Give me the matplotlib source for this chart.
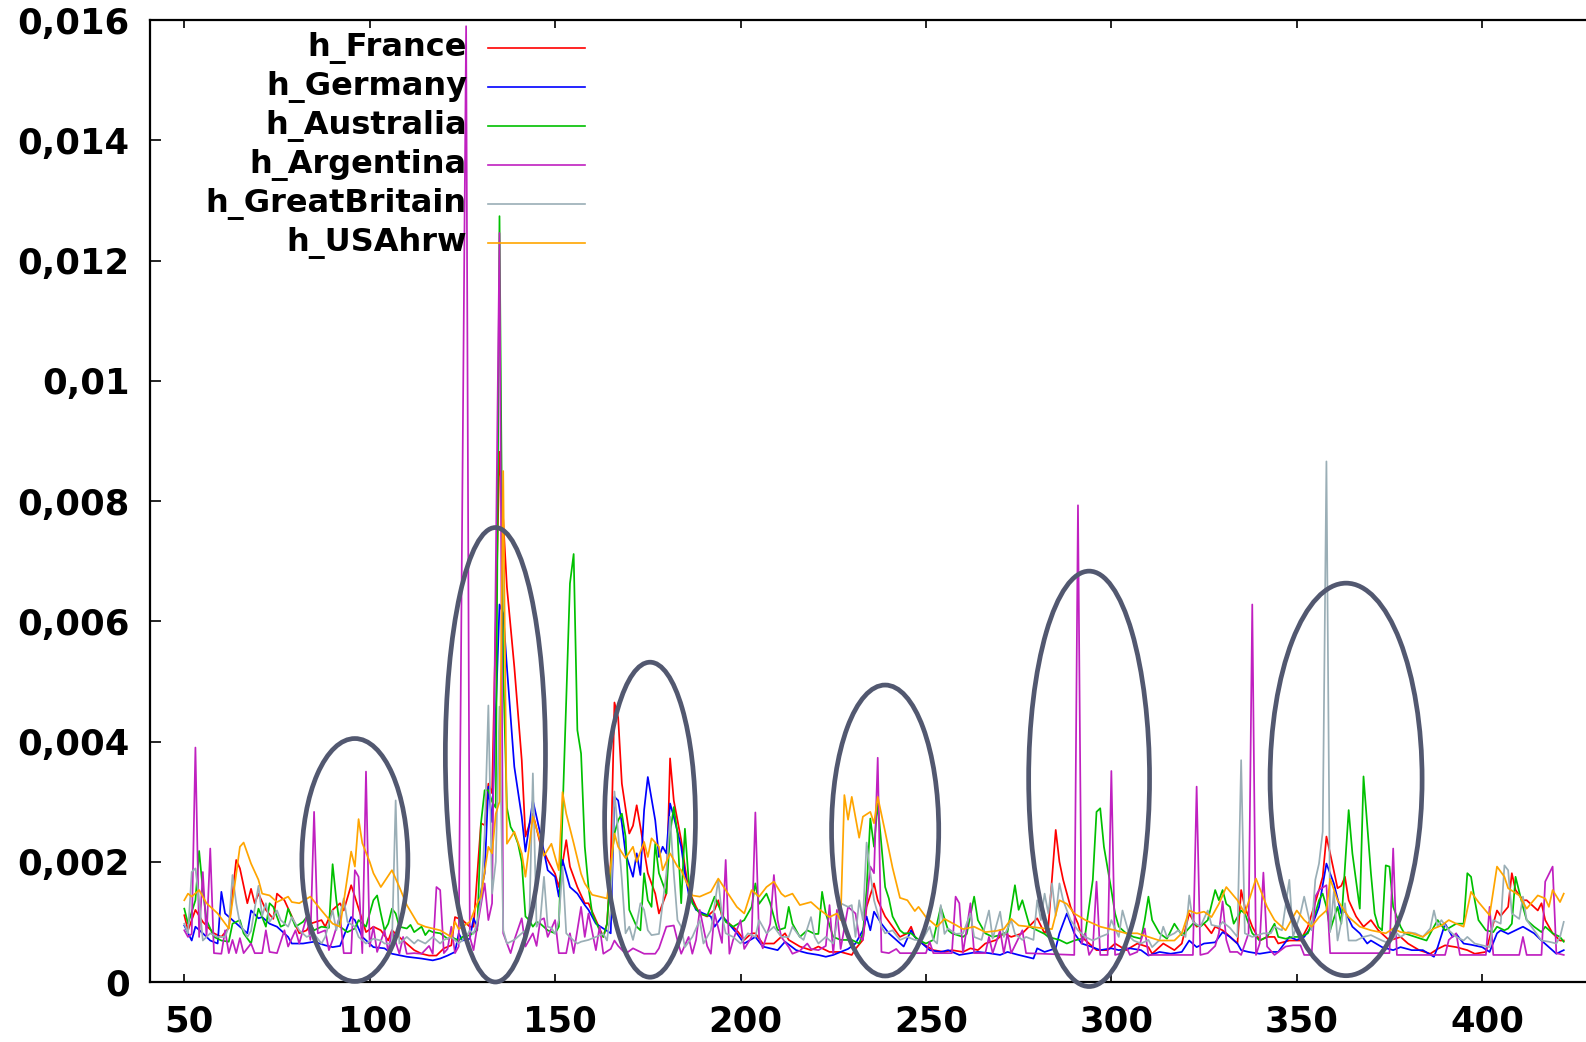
import matplotlib
matplotlib.use('Agg')
import matplotlib.pyplot as plt
import numpy as np
from matplotlib.patches import Ellipse
from matplotlib.lines import Line2D
from matplotlib.transforms import ScaledTranslation

# values: (x, y) with y in units of 1e-5
france = [(50,111),(51,86),(53,120),(55,100),(58,81),(60,75),(62,90),(64,203),(65,189),(67,131),(68,155),(69,131),(70,147),(72,120),(74,105),(75,147),(77,136),(79,109),(81,81),(83,86),(84,97),(87,103),(88,92),(90,120),(92,131),(93,119),(95,161),(96,142),(98,103),(99,83),(101,92),(103,86),(105,69),(106,86),(109,69),(112,53),(114,47),(116,44),(118,44),(120,56),(122,61),(123,108),(125,103),(127,92),(128,92),(130,264),(131,261),(132,330),(133,314),(135,882),(137,657),(139,524),(141,369),(142,242),(144,280),(146,230),(148,203),(150,180),(151,158),(153,236),(154,192),(156,158),(158,131),(159,131),(161,103),(163,75),(164,97),(165,200),(166,465),(167,440),(168,330),(170,247),(171,260),(172,294),(173,258),(174,219),(175,181),(177,147),(178,114),(180,147),(181,372),(182,302),(184,236),(185,192),(186,153),(188,125),(189,114),(191,109),(193,120),(194,136),(195,109),(197,97),(199,86),(201,70),(203,81),(204,81),(206,64),(209,64),(212,81),(213,70),(216,59),(219,53),(221,59),(224,50),(227,50),(230,45),(231,55),(233,70),(234,125),(236,164),(237,136),(239,109),(241,92),(243,75),(245,81),(246,92),(247,75),(249,64),(252,53),(255,50),(257,53),(260,50),(262,56),(264,53),(266,64),(269,70),(271,81),(273,75),(276,81),(280,106),(282,81),(283,92),(285,253),(286,200),(287,170),(289,125),(291,97),(292,75),(294,64),(296,53),(299,53),(301,64),(304,53),(307,64),(310,58),(311,47),(314,64),(317,53),(319,64),(321,114),(323,92),(325,97),(327,81),(328,92),(330,86),(331,81),(334,64),(335,153),(336,125),(338,92),(340,69),(342,75),(344,75),(345,64),(348,69),(351,69),(353,92),(356,153),(357,175),(358,242),(359,214),(361,156),(362,160),(363,175),(364,136),(366,109),(368,92),(370,103),(372,86),(375,69),(378,75),(380,64),(383,53),(386,47),(388,55),(390,61),(393,58),(396,53),(398,47),(401,50),(403,97),(404,119),(405,110),(407,125),(408,181),(409,153),(411,136),(412,136),(415,119),(416,131),(417,103),(419,81),(421,69),(422,69)]

germany = [(50,94),(52,69),(53,92),(55,81),(57,69),(59,64),(60,150),(61,114),(63,103),(65,92),(67,81),(68,119),(70,106),(71,108),(73,97),(75,92),(78,75),(79,64),(82,64),(85,67),(88,61),(90,58),(92,60),(94,92),(95,108),(96,103),(98,75),(101,58),(104,56),(106,47),(110,42),(114,39),(117,36),(119,39),(121,44),(123,50),(124,81),(125,69),(127,72),(128,106),(129,92),(130,150),(131,181),(132,325),(133,266),(135,628),(136,613),(137,524),(139,358),(141,275),(142,217),(144,302),(146,247),(148,186),(150,175),(151,142),(152,203),(154,158),(156,147),(158,128),(159,120),(161,97),(163,89),(165,81),(166,308),(167,302),(168,264),(169,214),(171,175),(172,214),(173,178),(174,286),(175,341),(177,269),(178,208),(179,225),(180,214),(181,297),(182,275),(184,225),(185,181),(186,147),(188,120),(190,114),(192,109),(193,92),(195,109),(196,103),(199,81),(201,64),(204,75),(206,59),(210,53),(212,67),(215,53),(218,48),(221,45),(223,42),(225,45),(227,50),(229,55),(231,64),(233,86),(234,109),(235,86),(236,117),(238,97),(240,81),(242,70),(244,59),(246,86),(247,75),(249,64),(251,53),(254,50),(256,53),(259,45),(262,48),(264,50),(267,48),(270,45),(272,50),(275,45),(279,39),(280,56),(282,50),(285,56),(286,81),(288,114),(290,81),(292,64),(294,60),(297,53),(300,56),(302,53),(305,56),(308,53),(310,44),(313,50),(316,47),(319,50),(321,69),(323,58),(325,64),(328,66),(330,83),(332,75),(334,64),(335,53),(337,50),(340,47),(343,50),(345,50),(348,75),(350,70),(352,75),(354,92),(356,125),(358,197),(360,164),(362,114),(363,118),(365,92),(367,81),(369,64),(370,69),(373,58),(376,53),(378,58),(381,53),(384,53),(387,42),(388,58),(390,97),(392,75),(393,80),(395,64),(397,62),(400,58),(402,50),(404,81),(405,86),(407,80),(409,86),(411,92),(414,81),(416,69),(418,58),(420,47),(422,53)]

australia = [(50,122),(51,97),(53,136),(54,218),(55,153),(56,103),(58,75),(60,69),(62,67),(63,97),(65,103),(66,81),(68,64),(70,122),(71,108),(72,92),(73,131),(74,125),(76,92),(77,95),(78,122),(80,92),(82,100),(83,108),(85,86),(87,92),(89,90),(90,196),(91,136),(92,92),(94,83),(96,89),(97,103),(99,92),(100,114),(101,136),(102,144),(103,114),(104,86),(105,97),(106,122),(107,114),(108,92),(110,89),(111,95),(112,83),(114,92),(115,78),(116,86),(117,83),(119,81),(121,72),(122,75),(124,69),(125,75),(127,78),(129,86),(130,264),(131,319),(132,319),(133,300),(134,290),(135,1274),(136,520),(137,290),(138,258),(139,247),(140,230),(141,200),(142,109),(143,103),(144,92),(145,100),(146,97),(148,86),(150,81),(151,92),(152,280),(153,469),(154,663),(155,712),(156,419),(157,380),(158,225),(159,158),(160,114),(162,86),(163,75),(164,97),(165,192),(166,247),(167,269),(168,280),(169,242),(170,120),(172,92),(173,86),(174,181),(175,136),(176,125),(177,230),(178,181),(180,147),(181,247),(182,291),(183,247),(184,131),(185,255),(186,170),(187,131),(189,114),(191,110),(193,142),(195,114),(196,100),(198,92),(201,103),(203,125),(204,164),(205,130),(207,147),(208,131),(210,86),(212,90),(213,125),(214,97),(216,75),(218,86),(220,80),(221,80),(222,150),(223,114),(225,75),(227,70),(230,70),(232,64),(233,81),(234,153),(235,272),(236,225),(237,297),(239,158),(240,139),(241,109),(243,86),(244,81),(246,81),(248,70),(250,64),(252,70),(254,125),(256,86),(257,81),(260,75),(261,80),(263,142),(264,103),(266,81),(268,75),(270,78),(272,83),(274,161),(275,120),(276,136),(278,92),(280,86),(282,80),(283,75),(286,70),(288,64),(290,69),(292,72),(293,81),(295,170),(296,283),(297,289),(298,225),(300,153),(301,114),(302,92),(304,81),(306,75),(308,72),(309,103),(310,142),(311,103),(313,81),(315,72),(317,97),(319,78),(320,83),(322,97),(324,92),(326,103),(328,153),(329,136),(330,153),(331,130),(332,125),(333,97),(335,119),(336,114),(338,81),(340,69),(342,75),(344,97),(345,75),(347,72),(349,75),(351,75),(353,81),(355,114),(356,136),(357,147),(358,125),(359,86),(361,125),(362,97),(364,286),(365,214),(367,122),(368,342),(370,181),(371,114),(372,92),(373,86),(374,194),(375,192),(376,125),(378,92),(379,81),(382,75),(385,69),(387,92),(388,103),(390,86),(393,97),(395,97),(396,181),(397,175),(398,136),(399,103),(401,86),(403,83),(404,92),(406,86),(407,89),(408,97),(409,175),(411,125),(412,103),(414,92),(416,83),(417,92),(419,81),(421,75),(422,67)]

argentina = [(50,86),(51,75),(52,80),(53,390),(54,75),(55,183),(56,75),(57,222),(58,48),(60,47),(61,86),(62,48),(63,70),(64,48),(65,73),(66,48),(68,64),(69,48),(71,48),(72,86),(73,50),(75,48),(77,86),(78,59),(80,86),(81,64),(83,109),(84,70),(85,283),(86,81),(88,86),(89,53),(90,70),(92,111),(93,48),(95,48),(96,186),(97,175),(98,48),(99,350),(100,59),(101,92),(102,50),(104,86),(105,50),(106,86),(108,47),(109,75),(110,47),(112,48),(114,47),(116,60),(117,47),(118,158),(119,153),(120,48),(121,55),(122,92),(123,48),(124,59),(126,1590),(127,75),(128,53),(129,92),(131,164),(132,103),(133,131),(135,1246),(136,81),(138,48),(139,70),(141,106),(142,59),(144,81),(145,60),(146,103),(147,106),(148,75),(150,103),(151,48),(153,48),(154,81),(155,48),(157,125),(158,75),(159,114),(161,53),(162,92),(163,47),(165,55),(166,69),(167,60),(169,47),(171,56),(174,47),(177,47),(178,56),(180,92),(182,94),(183,69),(184,47),(186,75),(187,47),(188,70),(189,120),(191,60),(192,47),(193,114),(195,65),(196,203),(197,47),(198,70),(200,103),(201,55),(203,75),(204,282),(205,75),(206,56),(208,97),(209,178),(210,103),(211,75),(213,58),(214,47),(216,52),(218,64),(219,55),(221,53),(223,60),(224,128),(225,47),(226,120),(227,55),(229,125),(231,114),(232,75),(233,70),(235,192),(236,181),(237,373),(238,50),(240,48),(242,55),(243,48),(250,48),(251,67),(252,48),(257,48),(258,142),(259,131),(260,48),(262,131),(263,48),(266,48),(267,75),(268,48),(270,86),(271,48),(272,81),(273,48),(276,86),(277,48),(290,45),(291,793),(292,64),(293,81),(294,45),(295,55),(296,167),(297,45),(299,45),(300,351),(301,45),(303,48),(304,59),(305,45),(307,50),(309,89),(310,45),(322,45),(323,325),(324,45),(326,48),(328,60),(329,81),(330,134),(331,70),(332,50),(334,50),(335,45),(337,81),(338,628),(339,45),(340,64),(341,182),(342,59),(344,45),(347,59),(349,61),(351,61),(352,45),(354,45),(355,142),(356,153),(358,161),(359,48),(375,48),(376,222),(377,45),(390,45),(391,70),(393,81),(394,45),(401,45),(402,125),(403,45),(410,45),(411,75),(412,45),(416,45),(417,167),(419,192),(420,48),(422,45)]

great_britain = [(50,97),(51,81),(52,183),(53,189),(54,136),(55,69),(57,81),(59,75),(61,75),(62,92),(63,178),(64,131),(65,97),(67,75),(68,85),(70,160),(71,110),(72,131),(73,100),(75,119),(76,103),(78,92),(79,108),(81,86),(83,75),(85,80),(87,64),(88,75),(90,119),(91,86),(93,139),(94,100),(96,92),(97,75),(99,64),(101,72),(103,69),(104,64),(106,64),(107,302),(108,64),(110,75),(112,64),(113,70),(115,64),(117,75),(119,64),(120,70),(122,75),(124,64),(126,75),(127,86),(128,80),(129,100),(130,136),(131,247),(132,460),(133,147),(134,200),(135,458),(136,86),(137,64),(139,70),(141,81),(143,90),(144,347),(145,92),(146,103),(147,175),(148,92),(149,90),(150,80),(151,103),(152,192),(153,81),(154,75),(155,69),(156,64),(157,67),(159,70),(161,75),(163,80),(164,69),(165,120),(166,317),(167,247),(168,170),(169,81),(170,92),(171,70),(172,97),(173,131),(174,120),(175,86),(176,78),(178,80),(179,131),(180,181),(181,275),(182,181),(183,103),(184,92),(185,58),(187,75),(189,103),(190,64),(192,86),(194,170),(195,110),(196,81),(198,75),(200,64),(202,81),(204,75),(205,103),(207,81),(209,92),(211,75),(213,75),(214,92),(216,75),(217,70),(219,108),(220,75),(221,64),(223,75),(225,64),(227,131),(229,125),(230,128),(231,75),(232,136),(233,103),(234,232),(235,181),(236,136),(237,114),(238,92),(239,81),(241,86),(243,70),(245,75),(247,70),(249,70),(251,92),(252,70),(253,64),(254,128),(255,80),(256,89),(258,80),(260,81),(262,114),(263,75),(265,70),(266,95),(267,119),(268,72),(270,117),(271,75),(273,103),(274,80),(276,70),(277,75),(279,70),(280,136),(281,103),(282,147),(283,114),(284,164),(285,110),(286,164),(287,136),(289,103),(291,86),(293,75),(295,69),(297,75),(299,80),(300,103),(302,75),(303,119),(305,75),(306,69),(308,64),(310,70),(311,58),(313,70),(314,92),(315,75),(317,81),(318,86),(320,75),(321,144),(322,100),(324,92),(326,119),(327,95),(329,92),(330,100),(332,90),(334,75),(335,369),(336,81),(338,75),(341,81),(343,81),(344,92),(346,86),(348,170),(349,75),(351,114),(352,142),(354,86),(355,170),(356,197),(357,250),(358,866),(359,83),(360,150),(361,69),(363,131),(364,69),(366,69),(368,75),(370,78),(371,75),(373,69),(375,64),(377,81),(378,75),(380,83),(382,81),(384,75),(386,89),(387,119),(388,92),(389,103),(391,86),(393,75),(395,69),(396,75),(398,64),(400,61),(402,58),(403,103),(405,97),(406,194),(407,186),(408,114),(410,105),(411,142),(412,103),(414,86),(416,69),(418,67),(420,64),(421,75),(422,100)]

usa_hrw = [(50,136),(51,147),(52,142),(54,153),(56,131),(59,114),(62,89),(65,225),(66,232),(68,197),(70,170),(71,147),(73,144),(75,133),(78,142),(79,133),(81,131),(84,142),(87,119),(90,97),(92,92),(95,217),(96,192),(97,271),(98,231),(100,200),(101,181),(103,158),(106,186),(108,158),(110,128),(113,97),(115,92),(119,86),(122,75),(123,100),(124,88),(127,100),(129,131),(130,142),(132,225),(133,214),(134,280),(135,300),(136,850),(137,230),(139,250),(141,214),(142,175),(144,275),(146,235),(147,210),(149,230),(151,186),(152,316),(153,280),(155,231),(157,180),(158,164),(160,145),(164,139),(166,247),(167,225),(169,206),(171,225),(172,200),(174,233),(175,208),(176,239),(178,225),(179,186),(181,214),(183,192),(184,186),(187,144),(189,142),(192,150),(194,172),(196,153),(199,125),(201,114),(203,153),(205,142),(207,158),(209,167),(211,147),(212,142),(214,147),(216,128),(219,133),(221,122),(224,108),(226,114),(227,103),(228,311),(229,270),(230,308),(232,240),(233,275),(235,283),(236,264),(237,308),(239,250),(241,190),(243,140),(245,136),(247,118),(248,125),(250,108),(253,92),(255,105),(258,95),(260,88),(263,92),(266,83),(269,85),(271,88),(273,105),(275,94),(278,92),(282,89),(284,88),(286,136),(288,130),(290,114),(293,103),(297,92),(301,86),(304,81),(307,81),(310,75),(313,69),(317,69),(319,81),(321,119),(323,114),(325,117),(327,108),(329,130),(331,158),(334,136),(336,114),(339,172),(342,125),(344,103),(347,86),(350,119),(352,103),(354,92),(356,108),(358,119),(359,172),(361,136),(364,108),(367,92),(370,86),(374,81),(376,89),(378,83),(381,81),(384,75),(387,89),(389,94),(391,103),(393,97),(395,92),(397,150),(399,133),(402,111),(404,192),(406,175),(407,156),(410,144),(412,122),(415,144),(417,139),(418,125),(419,153),(421,133),(422,147)]

series = [france, germany, australia, argentina, great_britain, usa_hrw]
names = ['h_France', 'h_Germany', 'h_Australia', 'h_Argentina', 'h_GreatBritain', 'h_USAhrw']
colors = ['#ff0000', '#0000ff', '#00c000', '#c020c0', '#9aaeb6', '#ffa500']

xticks = [50, 100, 150, 200, 250, 300, 350, 400]
yticks = [0, 0.002, 0.004, 0.006, 0.008, 0.01, 0.012, 0.014, 0.016]
ylabels = ['0', '0,002', '0,004', '0,006', '0,008', '0,01', '0,012', '0,014', '0,016']

# circled areas: centre x, centre y, width, height
circles = [(96.0, 0.00203, 28.6, 0.00404),
           (133.9, 0.00378, 27.0, 0.00756),
           (175.6, 0.00270, 24.5, 0.00524),
           (239.0, 0.00252, 28.9, 0.00484),
           (294.0, 0.00338, 32.6, 0.00691),
           (363.3, 0.00337, 41.0, 0.00653)]

plt.rcParams['font.family'] = 'DejaVu Sans'
plt.rcParams['font.weight'] = 'bold'

W, H = 1586, 1042
fig = plt.figure(figsize=(W / 100, H / 100), dpi=100)
ax = fig.add_axes([150.4 / W, 60 / H, (W - 150.4) / W, 961.8 / H])

for data, name, c in zip(series, names, colors):
    d = np.array(data, dtype=float)
    ax.plot(d[:, 0], d[:, 1] * 1e-5, color=c, lw=1.25, label=name)

for cx, cy, w, h in circles:
    ax.add_patch(Ellipse((cx, cy), w, h, fill=False, ec='#525870', lw=3.4,
                         clip_on=False, zorder=5))

ax.set_xlim(40.86, 428)
ax.set_ylim(0, 0.016)
ax.set_xticks(xticks)
ax.set_yticks(yticks)
ax.set_yticklabels(ylabels)
ax.tick_params(axis='y', direction='in', length=8, width=1.2, pad=15, labelsize=25.5)
ax.tick_params(axis='x', direction='in', length=6, width=1.2, pad=16, labelsize=25.5,
               top=True)
for lab in ax.get_xticklabels():
    lab.set_transform(lab.get_transform() + ScaledTranslation(0.05, 0, fig.dpi_scale_trans))

ax.spines['right'].set_visible(False)
for s in ['left', 'bottom', 'top']:
    ax.spines[s].set_linewidth(1.6)

# legend drawn by hand: text right-aligned, sample line to its right
rows = [47.7, 87, 126, 164.7, 203.7, 242.7]
for yp, name, c in zip(rows, names, colors):
    fig.text(467 / W, 1 - yp / H, name, ha='right', va='center', fontsize=23,
             fontweight='bold')
    fig.add_artist(Line2D([488 / W, 585 / W], [1 - yp / H, 1 - yp / H], color=c, lw=1.2))

fig.savefig('out.png', dpi=100)
